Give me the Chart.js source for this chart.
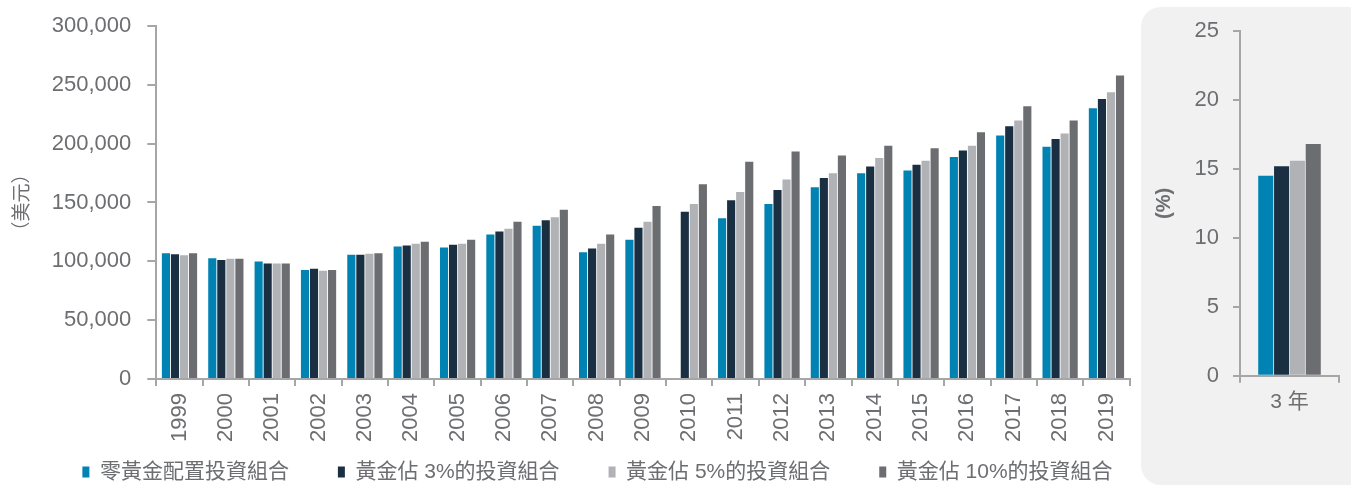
<!DOCTYPE html>
<html>
<head>
<meta charset="utf-8">
<script src="https://cdn.jsdelivr.net/npm/chart.js@4"></script>
<style>
    body { margin: 0; background: #fff; width: 1351px; height: 486px; overflow: hidden; position: relative; }
    #left { position: absolute; left: 0; top: 0; }
    #panel { position: absolute; left: 1141px; top: 7px; width: 230px; height: 478px; background: #f1f1f1; border-radius: 20px; }
    #right { position: absolute; left: 1141px; top: 0; }
</style>
</head>
<body>
<canvas id="left" width="1140" height="486"></canvas>
<div id="panel"></div>
<canvas id="right" width="210" height="486"></canvas>
<script>
// categories
var YEARS = ["1999", "2000", "2001", "2002", "2003", "2004", "2005", "2006", "2007", "2008",
    "2009", "2010", "2011", "2012", "2013", "2014", "2015", "2016", "2017", "2018", "2019"];
var SERIES_NAMES = ["零黃金配置投資組合", "黃金佔 3%的投資組合", "黃金佔 5%的投資組合", "黃金佔 10%的投資組合"];
var COLORS = ["#0083b3", "#1b2f42", "#b1b2b6", "#6c6d71"];

// portfolio value in USD
var NO_GOLD = [106900, 102700, 99800, 92700, 105500, 112600, 111800, 122900, 130300, 107800,
    118300, null, 136500, 148700, 163000, 174900, 177200, 188600, 206800, 197400, 230100];
var GOLD_3 = [106100, 101200, 98100, 93600, 105500, 113500, 114000, 125400, 134800, 110900,
    128500, 142200, 151900, 160700, 170900, 180600, 182000, 194200, 214700, 203900, 238000];
var GOLD_5 = [105200, 102100, 98100, 91900, 106400, 114900, 114900, 127700, 137400, 114900,
    133700, 148700, 159000, 169500, 174900, 187700, 185400, 198200, 219600, 208500, 243700];
var GOLD_10 = [106900, 102100, 98100, 92700, 106900, 116600, 118300, 133700, 143900, 122900,
    147000, 165500, 184600, 193400, 190000, 198200, 196000, 209600, 231800, 219600, 257900];

// 3 year return, %
var RETURN_LABELS = ["3 年"];
var RETURN_3Y = [[14.5], [15.2], [15.6], [16.8]];

var TEXT_COLOR = "#6d6e71";
var AXIS_COLOR = "#a6a6a6";
var FONT = "'Liberation Sans', Arial, sans-serif";
var CJK_FONT = "'Liberation Sans', 'Noto Sans CJK TC', sans-serif";

// legend row sits at the bottom, close under the x labels
const LEGEND_HEIGHT = 37;
const LEGEND_CENTER_Y = 472;
const LEGEND_SHIFT_X = 28;

Chart.defaults.animation = false;
Chart.defaults.color = TEXT_COLOR;


function makeDatasets(values, catPct, barPct) {
    var sets = [];
    for (var i = 0; i < values.length; i++)
        sets.push({
            label: SERIES_NAMES[i],
            data: values[i],
            backgroundColor: COLORS[i],
            categoryPercentage: catPct,
            barPercentage: barPct,
        });
    return sets;
}


// the legend padding is wide between items, but it should not eat the
// vertical space too, so the legend reserves less room and is moved after the layout
var legendPlacer = {
    id: 'legendPlacer',
    beforeInit: function (chart) {
        var fit = chart.legend.fit;
        chart.legend.fit = function () {
            fit.call(this);
            this.fullHeight = this.height;
            this.height = LEGEND_HEIGHT;
        };
    },
    afterLayout: function (chart) {
        var lg = chart.legend;
        var labels = lg.options.labels;
        lg.top = LEGEND_CENTER_Y - labels.font.size / 2 - labels.padding;
        lg.bottom = lg.top + lg.fullHeight;
        lg.height = lg.fullHeight;
        lg.left += LEGEND_SHIFT_X;
        lg.right += LEGEND_SHIFT_X;
    }
};


new Chart(document.getElementById("left"), {
    type: 'bar',
    data: {
        labels: YEARS,
        datasets: makeDatasets([NO_GOLD, GOLD_3, GOLD_5, GOLD_10], 0.78, 0.9)
    },
    plugins: [legendPlacer],
    options: {
        responsive: false,
        layout: { padding: { top: 20, right: 6, left: 5, bottom: 0 } },
        plugins: {
            tooltip: { enabled: false },
            legend: {
                position: 'bottom',
                labels: {
                    boxWidth: 7,
                    boxHeight: 11,
                    padding: 49,
                    color: TEXT_COLOR,
                    font: { family: CJK_FONT, size: 21 }
                }
            }
        },
        scales: {
            x: {
                border: { color: AXIS_COLOR, width: 2 },
                grid: { drawOnChartArea: false, tickLength: 7, color: AXIS_COLOR, lineWidth: 2 },
                ticks: { minRotation: 90, maxRotation: 90, padding: 7, color: TEXT_COLOR,
                    font: { family: FONT, size: 22 } }
            },
            y: {
                min: 0,
                max: 300000,
                border: { color: AXIS_COLOR, width: 2 },
                grid: { drawOnChartArea: false, tickLength: 9, color: AXIS_COLOR, lineWidth: 2 },
                // small line height so the top label does not push the plot down
                ticks: { stepSize: 50000, padding: 16, color: TEXT_COLOR,
                    font: { family: FONT, size: 22, lineHeight: 0.9 } },
                title: { display: true, text: "（美元）", color: TEXT_COLOR,
                    padding: { top: 4, bottom: 4 },
                    font: { family: "'Noto Sans CJK TC', sans-serif", size: 19 } }
            }
        }
    }
});


// only one category here, so its name is shown as the axis title: a tick
// label would make the chart reserve extra room on both sides
new Chart(document.getElementById("right"), {
    type: 'bar',
    data: {
        labels: RETURN_LABELS,
        datasets: makeDatasets(RETURN_3Y, 0.64, 0.95)
    },
    options: {
        responsive: false,
        layout: { padding: { top: 31, right: 12, left: 0, bottom: 71 } },
        plugins: {
            tooltip: { enabled: false },
            legend: { display: false }
        },
        scales: {
            x: {
                border: { color: AXIS_COLOR, width: 2 },
                grid: { drawOnChartArea: false, tickLength: 7, color: AXIS_COLOR, lineWidth: 2 },
                ticks: { display: false },
                title: { display: true, text: RETURN_LABELS[0], color: TEXT_COLOR,
                    padding: { top: 7, bottom: 0 },
                    font: { family: CJK_FONT, size: 21 } }
            },
            y: {
                min: 0,
                max: 25,
                border: { color: AXIS_COLOR, width: 2 },
                grid: { drawOnChartArea: false, tickLength: 7, color: AXIS_COLOR, lineWidth: 2 },
                ticks: { stepSize: 5, padding: 14, color: TEXT_COLOR, font: { family: FONT, size: 22 } },
                title: { display: true, text: "(%)", color: TEXT_COLOR,
                    padding: { top: 11, bottom: 12 },
                    font: { family: FONT, size: 20, weight: 'bold' } }
            }
        }
    }
});
</script>
</body>
</html>
